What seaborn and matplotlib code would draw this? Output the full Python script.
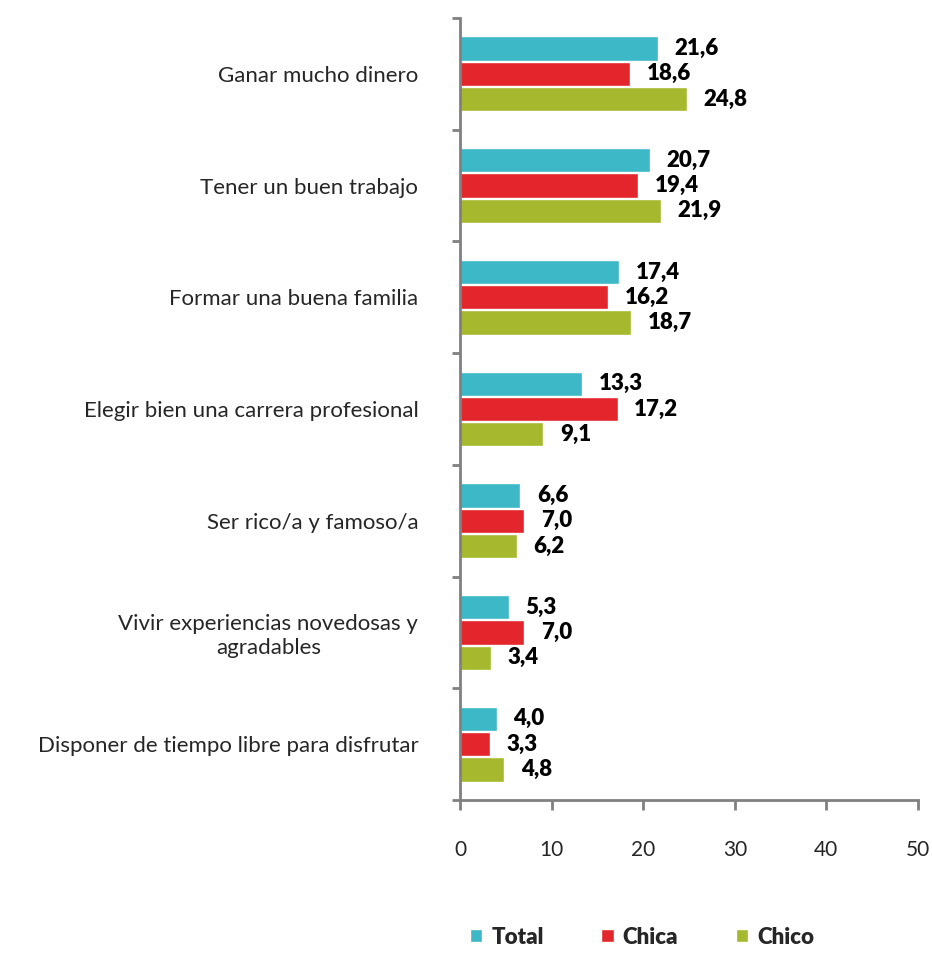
import seaborn as sns
import pandas as pd
import matplotlib.pyplot as plt

categorias = ['Ganar mucho dinero', 'Tener un buen trabajo', 'Formar una buena familia',
              'Elegir bien una carrera profesional', 'Ser rico/a y famoso/a',
              'Vivir experiencias novedosas y\nagradables', 'Disponer de tiempo libre para disfrutar']
total = [21.6, 20.7, 17.4, 13.3, 6.6, 5.3, 4.0]
chica = [18.6, 19.4, 16.2, 17.2, 7.0, 7.0, 3.3]
chico = [24.8, 21.9, 18.7, 9.1, 6.2, 3.4, 4.8]
grupos = ['Total', 'Chica', 'Chico']
colores = ['#3DB8C6', '#E2262C', '#A6B92E']

sns.set_style('white')
plt.rcParams['font.family'] = ['Lato', 'DejaVu Sans']

df = pd.DataFrame({
    'cat': categorias * 3,
    'val': total + chica + chico,
    'grupo': [g for g in grupos for _ in categorias],
})

fig = plt.figure(figsize=(9.32, 9.58), dpi=100)
ax = fig.add_axes([460/932, 1-800/958, 458/932, 782/958])
sns.barplot(data=df, y='cat', x='val', hue='grupo', palette=colores, orient='h',
            width=0.68, gap=0.04, saturation=1, ax=ax, legend=True)

for cont in ax.containers:
    ax.bar_label(cont, labels=[('%.1f' % v).replace('.', ',') for v in cont.datavalues],
                 padding=12, fontsize=16, fontweight='heavy', color='#000000')

ax.set_xlim(0, 50)
ax.set_ylim(6.5, -0.5)
ax.set_xticks([0, 10, 20, 30, 40, 50])
ax.set_xlabel('')
ax.set_ylabel('')
ax.tick_params(axis='x', length=7, width=2, color='#808080', pad=22, labelsize=15, bottom=True)
ax.tick_params(axis='y', length=0, pad=30, labelsize=16)
for t in ax.get_yticklabels():
    t.set_multialignment('center')
ax.set_yticks([i - 0.5 for i in range(8)], minor=True)
ax.tick_params(axis='y', which='minor', length=6, width=2, color='#808080', left=True)
for s in ['top', 'right']:
    ax.spines[s].set_visible(False)
for s in ['left', 'bottom']:
    ax.spines[s].set_color('#808080')
    ax.spines[s].set_linewidth(2)

h, l = ax.get_legend_handles_labels()
ax.legend_.remove()
fig.legend(h, l, loc='center', bbox_to_anchor=(642/932, 1-937/958), ncol=3, frameon=False,
           handlelength=0.55, handleheight=0.55, columnspacing=2.6, handletextpad=0.4,
           prop={'weight': 'heavy', 'size': 16})

plt.savefig('out.png', dpi=100)
